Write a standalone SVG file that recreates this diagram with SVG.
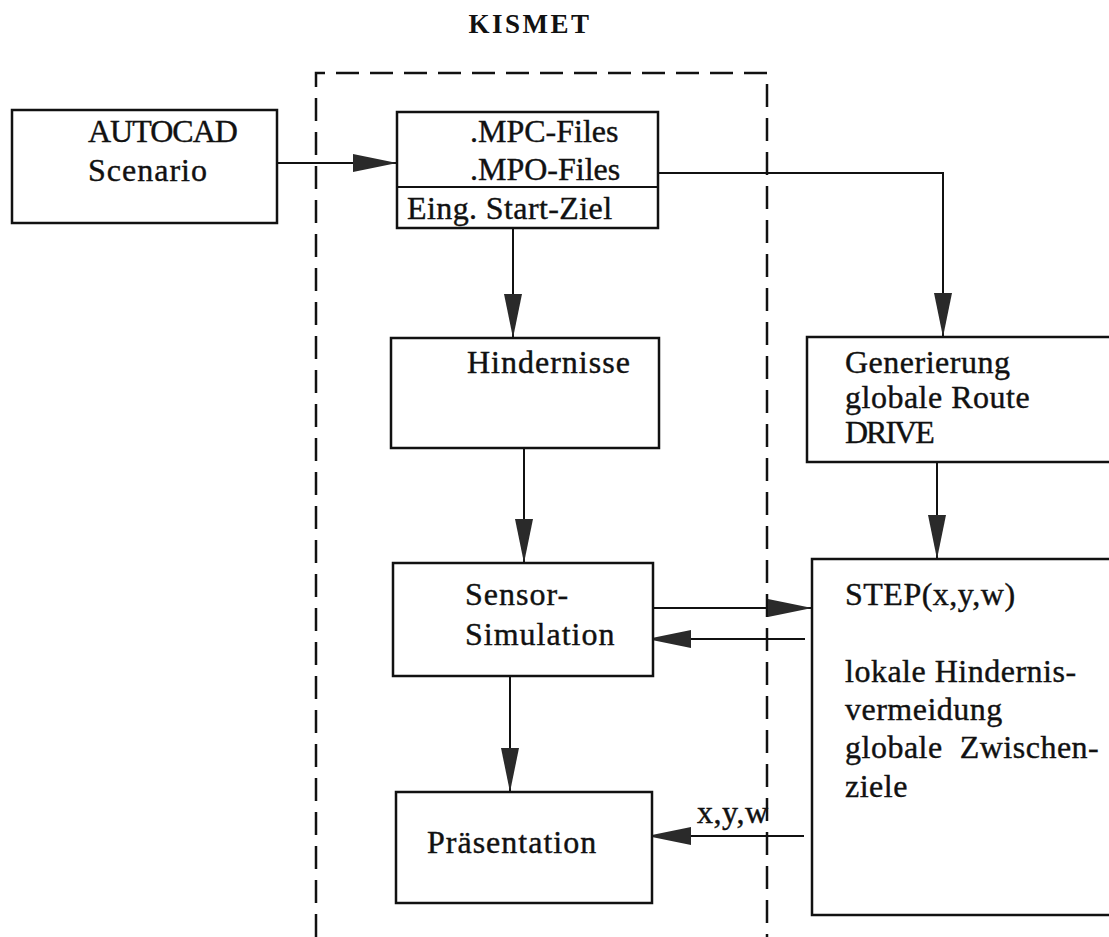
<svg xmlns="http://www.w3.org/2000/svg" width="1109" height="937" viewBox="0 0 1109 937">
<style>
  .box { fill: #fff; stroke: #111; stroke-width: 2.5; }
  .t { font-family: "Liberation Serif", "Times New Roman", serif; font-size: 32px; fill: #111; stroke: #111; stroke-width: 0.4; }
  .title { font-family: "Liberation Serif", "Times New Roman", serif; font-size: 27px; font-weight: bold; fill: #111; letter-spacing: 2.5px; }
  .c { fill: none; stroke: #111; stroke-width: 2; marker-end: url(#ah); }
  .cn { fill: none; stroke: #111; stroke-width: 2; }
  .dash { fill: none; stroke: #111; stroke-width: 2.5; stroke-dasharray: 23 11; }
</style>
<defs>
  <marker id="ah" viewBox="0 0 44 18" markerWidth="44" markerHeight="18" refX="44" refY="9" orient="auto" markerUnits="userSpaceOnUse">
    <path d="M0,0 L44,9 L0,18 Z" fill="#2a2a2a"/>
  </marker>
</defs>
<rect width="1109" height="937" fill="#fff"/>

<text class="title" x="530" y="33" text-anchor="middle">KISMET</text>

<g id="kismet-boundary">
  <path class="dash" d="M316,937 V73 H767 V937"/>
</g>

<g id="connectors">
  <path class="c" d="M277,163 H397"/>
  <path class="c" d="M658,173 H943 V337"/>
  <path class="c" d="M513,228 V338"/>
  <path class="c" d="M524,448 V563"/>
  <path class="c" d="M937,447 V559"/>
  <path class="c" d="M653,608 H812"/>
  <path class="c" d="M805,639 H647"/>
  <path class="c" d="M510,676 V792"/>
  <path class="c" d="M804,836 H647"/>
  <text class="t" x="697" y="823" style="letter-spacing:0.5px">x,y,w</text>
</g>

<g id="autocad">
  <rect class="box" x="12" y="110" width="265" height="113"/>
  <text class="t" x="88" y="142" style="letter-spacing:-1px">AUTOCAD</text>
  <text class="t" x="88" y="181" style="letter-spacing:1px">Scenario</text>
</g>

<g id="files">
  <rect class="box" x="397" y="112" width="261" height="116"/>
  <line class="cn" x1="397" y1="187" x2="658" y2="187" stroke-width="2.5"/>
  <text class="t" x="470" y="142">.MPC-Files</text>
  <text class="t" x="470" y="180">.MPO-Files</text>
  <text class="t" x="407" y="219" style="letter-spacing:0.4px">Eing. Start-Ziel</text>
</g>

<g id="hindernisse">
  <rect class="box" x="391" y="338" width="268" height="110"/>
  <text class="t" x="467" y="373" style="letter-spacing:1px">Hindernisse</text>
</g>

<g id="sensor">
  <rect class="box" x="393" y="563" width="260" height="113"/>
  <text class="t" x="465" y="605" style="letter-spacing:1px">Sensor-</text>
  <text class="t" x="465" y="645" style="letter-spacing:1px">Simulation</text>
</g>

<g id="praesentation">
  <rect class="box" x="396" y="792" width="256" height="111"/>
  <text class="t" x="427" y="853" style="letter-spacing:1px">Präsentation</text>
</g>

<g id="generierung">
  <rect class="box" x="807" y="337" width="310" height="125"/>
  <text class="t" x="845" y="373" style="letter-spacing:0.5px">Generierung</text>
  <text class="t" x="845" y="408" style="letter-spacing:0.5px">globale Route</text>
  <text class="t" x="845" y="443" style="letter-spacing:-2px">DRIVE</text>
</g>

<g id="step">
  <rect class="box" x="812" y="559" width="310" height="356"/>
  <text class="t" x="845" y="605" style="letter-spacing:0.5px">STEP(x,y,w)</text>
  <text class="t" x="845" y="682" style="letter-spacing:0.5px">lokale Hindernis-</text>
  <text class="t" x="845" y="720" style="letter-spacing:0.5px">vermeidung</text>
  <text class="t" x="845" y="758" style="letter-spacing:0.5px" xml:space="preserve">globale  Zwischen-</text>
  <text class="t" x="845" y="797" style="letter-spacing:0.5px">ziele</text>
</g>
</svg>
